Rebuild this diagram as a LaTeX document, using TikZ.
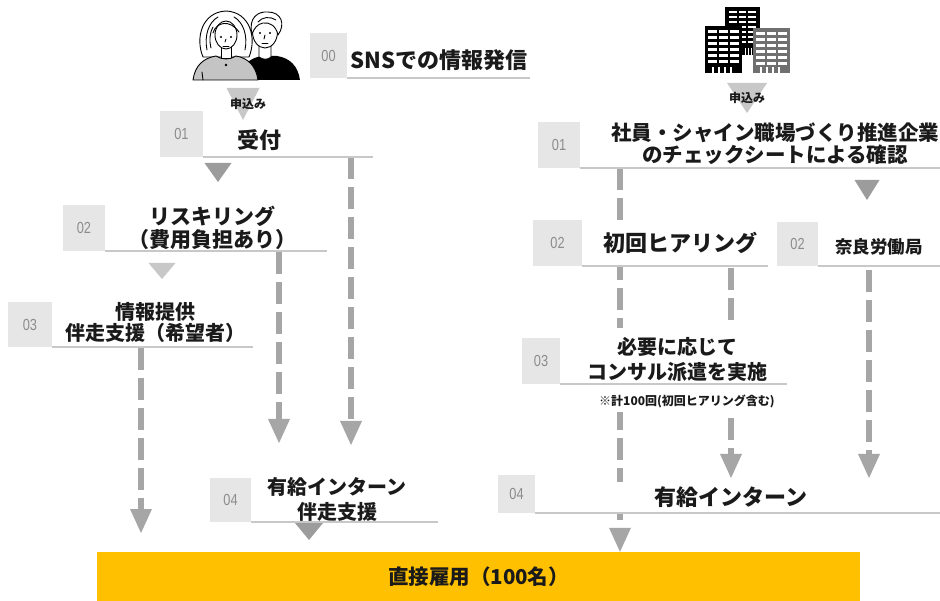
\documentclass[tikz,border=0pt]{standalone}
\usepackage{fontspec}
\setmainfont{Noto Sans CJK JP}
\newfontfamily\numfont{Liberation Sans}[FakeStretch=0.8]
\usetikzlibrary{arrows.meta}
\newcommand{\setfs}[2]{\fontsize{#1}{#2}\selectfont}

\definecolor{ink}{HTML}{1A1A1A}
\definecolor{boxgray}{HTML}{E6E6E6}
\definecolor{numgray}{HTML}{8C8C8C}
\definecolor{ulgray}{HTML}{C8C8C8}
\definecolor{arrgray}{HTML}{A6A6A6}
\definecolor{tridark}{HTML}{9C9C9C}
\definecolor{trilight}{HTML}{C8C8C8}
\definecolor{gold}{HTML}{FFC000}
\definecolor{shirtgray}{HTML}{C4C4C4}
\definecolor{bldgray}{HTML}{707070}

\tikzset{
  lbl/.style={font=\bfseries, text=ink, fill=white, inner sep=0pt, align=center},
  numbox/.style={fill=boxgray, text=numgray, font=\numfont\setfs{16}{16}, inner sep=0pt},
  uline/.style={draw=ulgray, line width=2pt},
  flowarrow/.style={draw=arrgray, line width=6.5pt, dash pattern=on 22pt off 8pt,
    -{Triangle[width=22pt,length=24pt,line width=0pt]}},
  tridown/.style={fill=tridark},
  trilite/.style={fill=trilight},
  iconline/.style={draw=black, line width=0.9pt, line join=round, line cap=round},
  applylbl/.style={font=\bfseries\setfs{12}{12}, text=ink, inner sep=0pt},
}

\begin{document}
\begin{tikzpicture}[x=1pt, y=-1pt]
\useasboundingbox (0,0) rectangle (940,601);
\fill[white] (0,0) rectangle (940,601);

% ---- two people (line art) ----
\fill[black] (240,80) .. controls (242,64) and (250,58) .. (262,56) -- (277,56)
  .. controls (290,58) and (298,66) .. (300,80) -- cycle;
\draw[iconline, fill=white] (259,44) -- (259,57) .. controls (263,60) and (268,60) .. (271,57) -- (271,44);
\draw[iconline, fill=white] (265,32) ellipse [x radius=12.5pt, y radius=16pt];
\draw[iconline, fill=white] (252,34) .. controls (248,18) and (258,11) .. (268,12)
  .. controls (281,12) and (286,24) .. (278,35) .. controls (276,26) and (270,22) .. (263,23)
  .. controls (257,24) and (254,29) .. (252,34) -- cycle;
\draw[iconline] (258,22) .. controls (262,17) and (270,16) .. (276,20);
\fill (260,33) circle[radius=1.2pt];
\fill (270,33) circle[radius=1.2pt];
\draw[iconline] (265,35) -- (264,39);
\draw[iconline] (262,43) -- (268,43);

\draw[iconline, fill=white] (203,57) .. controls (195,38) and (202,12) .. (226,11)
  .. controls (250,12) and (257,38) .. (249,57) -- cycle;
\draw[iconline, fill=white] (221,46) -- (221,58) -- (231,58) -- (231,46);
\draw[iconline, fill=white] (226,35) ellipse [x radius=11pt, y radius=14pt];
\draw[iconline] (213,33) .. controls (216,22) and (230,19) .. (239,32);
\draw[iconline] (207,50) .. controls (204,35) and (209,22) .. (218,17);
\draw[iconline] (245,50) .. controls (248,35) and (243,22) .. (234,17);
\draw[iconline] (211,48) .. controls (209,40) and (210,32) .. (213,27);
\fill (221,37) circle[radius=1.2pt];
\fill (231,37) circle[radius=1.2pt];
\draw[iconline] (226,39) -- (225,42);
\draw[iconline] (223,46) -- (229,46);
\draw[iconline, fill=shirtgray] (193,80) .. controls (195,65) and (204,58) .. (216,56)
  .. controls (222,60) and (230,60) .. (236,56) .. controls (248,58) and (256,66) .. (258,80) -- cycle;
\fill (226,65) circle[radius=1.3pt];
\draw[iconline] (202,72) -- (203,80);

% ---- office buildings ----
\fill[black] (725,7) rectangle (760,55);
\foreach \yy in {11,16,21,26,31,36,41}
  \foreach \xx in {729,738.5,748}
    \fill[white] (\xx,\yy) rectangle ++(7.5,2.2);
\fill[black] (742,45) rectangle (753,55);
\foreach \xx in {745,748,751}
  \fill[white] (\xx,48) rectangle ++(1,7);
\fill[black] (705,26) rectangle (742,73);
\foreach \yy in {30,36,42,48,54,60}
  \foreach \xx in {708,719,730}
    \fill[white] (\xx,\yy) rectangle ++(8.5,2.6);
\foreach \xx in {712,718,724,730}
  \fill[white] (\xx,67) rectangle ++(1.6,6);
\fill[bldgray] (753,28) rectangle (790,73);
\foreach \yy in {32,38,44,50,56,62}
  \foreach \xx in {756,767,778}
    \fill[white] (\xx,\yy) rectangle ++(8.5,2.6);
\foreach \xx in {760,766,772,778}
  \fill[white] (\xx,67) rectangle ++(1.6,6);

% ---- result bar ----
\node[fill=gold, minimum width=763pt, minimum height=49pt, inner sep=0pt,
      font=\bfseries\setfs{20.5}{24}, text=ink] (hire) at (478.5,576.5) {直接雇用（100名）};

% ---- dashed flows ----
\coordinate (a1s) at (351,157);  \coordinate (a1e) at (351,445);
\coordinate (a2s) at (279,252);  \coordinate (a2e) at (279,443);
\coordinate (a3s) at (141,348);  \coordinate (a3e) at (141,533);
\coordinate (a4s) at (620,168);
\coordinate (a5s) at (731,268);  \coordinate (a5e) at (731,478);
\coordinate (a6s) at (869,270);  \coordinate (a6e) at (869,478);
\draw[flowarrow] (a1s) -- (a1e);
\draw[flowarrow] (a2s) -- (a2e);
\draw[flowarrow] (a3s) -- (a3e);
\draw[flowarrow] (a4s) -- (a4s |- hire.north);
\draw[flowarrow] (a5s) -- (a5e);
\draw[flowarrow] (a6s) -- (a6e);

% ---- step labels ----
\node[lbl, font=\bfseries\setfs{22}{26}] (sns) at (439,60) {SNSでの情報発信};
\node[lbl, font=\bfseries\setfs{22}{26}] (uke) at (259,140) {受付};
\node[lbl, font=\bfseries\setfs{21}{23}] (resk) at (212,228) {リスキリング\\（費用負担あり）};
\node[lbl, font=\bfseries\setfs{20}{21}] (info) at (155,322) {情報提供\\伴走支援（希望者）};
\node[lbl, font=\bfseries\setfs{20}{25}] (intL) at (337,499) {有給インターン\\伴走支援};
\node[lbl, font=\bfseries\setfs{20.5}{22}] (chk) at (775,144) {社員・シャイン職場づくり推進企業\\のチェックシートによる確認};
\node[lbl, font=\bfseries\setfs{22}{26}, minimum width=170pt, minimum height=44pt] (hear) at (680,243) {初回ヒアリング};
\node[lbl, font=\bfseries\setfs{17.5}{20}] (nara) at (879,247) {奈良労働局};
\node[lbl, font=\bfseries\setfs{20}{25}, minimum width=200pt, minimum height=62pt] (cons) at (677,359) {必要に応じて\\コンサル派遣を実施};
\node[lbl, font=\bfseries\setfs{12}{14}, minimum width=200pt, minimum height=22pt] (note) at (687,401) {※計100回(初回ヒアリング含む)};
\node[lbl, font=\bfseries\setfs{22}{26}, minimum width=250pt, minimum height=31pt] (intR) at (731,497) {有給インターン};

% ---- numbered tabs with underlines ----
\node[numbox, minimum width=37pt, minimum height=45pt] (b00) at (328.5,55.5) {00};
\node[numbox, minimum width=43pt, minimum height=46pt] (b01L) at (181.5,134) {01};
\node[numbox, minimum width=42pt, minimum height=46pt] (b02L) at (84,228) {02};
\node[numbox, minimum width=44pt, minimum height=45pt] (b03L) at (30,324.5) {03};
\node[numbox, minimum width=41pt, minimum height=44pt] (b04L) at (230.5,500) {04};
\node[numbox, minimum width=42pt, minimum height=46pt] (b01R) at (559,145) {01};
\node[numbox, minimum width=49pt, minimum height=46pt] (b02H) at (557.5,243) {02};
\node[numbox, minimum width=41pt, minimum height=44pt] (b02N) at (797.5,244) {02};
\node[numbox, minimum width=38pt, minimum height=46pt] (b03R) at (541,361) {03};
\node[numbox, minimum width=37pt, minimum height=38pt] (b04R) at (516.5,494) {04};

\draw[uline] (b00.south east) -- ++(183,0);
\draw[uline] (b01L.south east) -- ++(170,0);
\draw[uline] (b02L.south east) -- ++(222,0);
\draw[uline] (b03L.south east) -- ++(201,0);
\draw[uline] (b04L.south east) -- ++(187,0);
\draw[uline] (b01R.south east) -- ++(360,0);
\draw[uline] (b02H.south east) -- ++(186,0);
\draw[uline] (b02N.south east) -- ++(122,0);
\draw[uline] (b03R.south east) -- ++(227,0);
\draw[uline] (b04R.south east) -- ++(405,0);

% ---- solid step triangles ----
\fill[trilite] (226.5,88) -- (259.5,88) -- (243,120) -- cycle;
\fill[trilite] (727,83) -- (767,83) -- (747,113) -- cycle;
\fill[tridown] (204.5,163) -- (231.5,163) -- (218,182) -- cycle;
\fill[trilite] (148.5,263) -- (175.5,263) -- (162,279) -- cycle;
\fill[tridown] (295,523) -- (323,523) -- (309,540) -- cycle;
\fill[tridown] (854.5,180) -- (879.5,180) -- (867,200) -- cycle;

\node[applylbl] (applyL) at (248,104) {申込み};
\node[applylbl] (applyR) at (747,98) {申込み};
\end{tikzpicture}
\end{document}
